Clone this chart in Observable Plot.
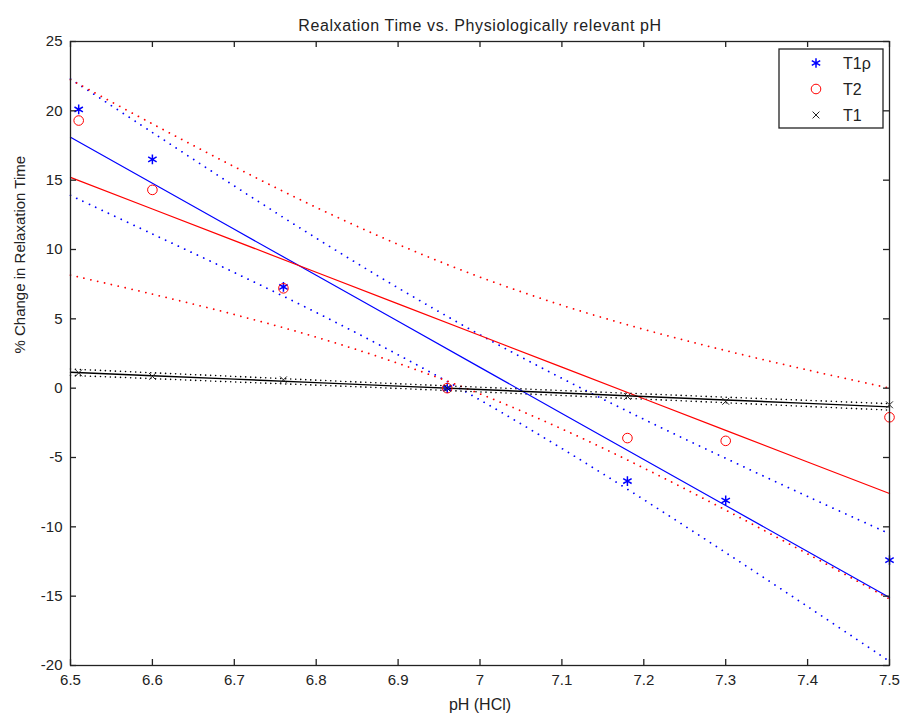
<!DOCTYPE html>
<html><head><meta charset="utf-8">
<script src="https://cdn.jsdelivr.net/npm/d3@7"></script>
<script src="https://cdn.jsdelivr.net/npm/@observablehq/plot@0.6"></script>
<style>
body{margin:0;background:#fff;}
#chart{position:relative;width:901px;height:717px;}
</style>
</head><body><div id="chart"></div>
<script>
// Measured points
const pH = [6.51, 6.6, 6.76, 6.96, 7.18, 7.3, 7.5];
const t1rho = [20.1, 16.5, 7.3, 0, -6.7, -8.1, -12.4];
const t2 = [19.3, 14.3, 7.2, 0, -3.6, -3.8, -2.1];
const t1 = [1.1, 0.85, 0.6, 0, -0.6, -0.95, -1.2];

// Fit lines and dotted bounds, read along the pH axis
const pHGrid = [6.5, 6.6, 6.7, 6.8, 6.9, 7.0, 7.1, 7.2, 7.3, 7.4, 7.5];
const t1rhoFit = [18.1, 14.78, 11.46, 8.14, 4.82, 1.5, -1.82, -5.14, -8.46, -11.78, -15.1];
const t1rhoUpper = [22.3, 18.44, 14.58, 10.82, 7.23, 3.85, 0.71, -2.24, -5.06, -7.81, -10.5];
const t1rhoLower = [13.9, 11.12, 8.34, 5.46, 2.41, -0.85, -4.35, -8.04, -11.86, -15.75, -19.7];
const t2Fit = [15.2, 12.92, 10.64, 8.36, 6.08, 3.8, 1.52, -0.76, -3.04, -5.32, -7.6];
const t2Upper = [22.25, 19.06, 15.97, 13.04, 10.37, 8.01, 5.98, 4.24, 2.71, 1.31, 0.0];
const t2Lower = [8.15, 6.78, 5.31, 3.68, 1.79, -0.41, -2.94, -5.76, -8.79, -11.95, -15.2];
const t1Fit = [1.15, 0.9, 0.65, 0.4, 0.15, -0.1, -0.35, -0.6, -0.85, -1.1, -1.35];
const t1Upper = [1.38, 1.11, 0.85, 0.58, 0.32, 0.07, -0.17, -0.41, -0.65, -0.88, -1.12];
const t1Lower = [0.92, 0.69, 0.45, 0.22, -0.02, -0.27, -0.53, -0.79, -1.05, -1.32, -1.58];

const xTicks = [6.5, 6.6, 6.7, 6.8, 6.9, 7.0, 7.1, 7.2, 7.3, 7.4, 7.5];
const yTicks = [-20, -15, -10, -5, 0, 5, 10, 15, 20, 25];

const title = "Realxation Time vs. Physiologically relevant pH";
const xLabel = "pH (HCl)";
const yLabel = "% Change in Relaxation Time";
const seriesNames = ["T1\u03c1", "T2", "T1"];

const BLUE = "#0000ff", RED = "#ff0000", BLACK = "#000000";
const FONT = "'Liberation Sans', Arial, Helvetica, sans-serif";

const pts = (ys) => pH.map((x, i) => ({x, y: ys[i]}));
const grid = (ys) => pHGrid.map((x, i) => ({x, y: ys[i]}));

const W = 901, H = 717;
const mL = 70, mR = 12, mT = 41, mB = 52;
const innerH = H - mT - mB, innerW = W - mL - mR;
const tick = 6;
const dotted = {strokeWidth: 1.8, strokeDasharray: "0.01,7", strokeLinecap: "round", curve: "catmull-rom"};

const chart = Plot.plot({
  width: W, height: H,
  marginLeft: mL, marginRight: mR, marginTop: mT, marginBottom: mB,
  style: {fontFamily: FONT, fontSize: "15px", color: "#222", background: "#fff"},
  x: {domain: [6.5, 7.5]},
  y: {domain: [-20, 25]},
  marks: [
    // dotted bounds
    Plot.line(grid(t1rhoUpper), {x: "x", y: "y", stroke: BLUE, ...dotted}),
    Plot.line(grid(t1rhoLower), {x: "x", y: "y", stroke: BLUE, ...dotted}),
    Plot.line(grid(t2Upper), {x: "x", y: "y", stroke: RED, ...dotted}),
    Plot.line(grid(t2Lower), {x: "x", y: "y", stroke: RED, ...dotted}),
    Plot.line(grid(t1Upper), {x: "x", y: "y", stroke: BLACK, ...dotted, strokeWidth: 1.6, strokeDasharray: "0.01,5"}),
    Plot.line(grid(t1Lower), {x: "x", y: "y", stroke: BLACK, ...dotted, strokeWidth: 1.6, strokeDasharray: "0.01,5"}),
    // fit lines
    Plot.line(grid(t1rhoFit), {x: "x", y: "y", stroke: BLUE, strokeWidth: 1.2}),
    Plot.line(grid(t2Fit), {x: "x", y: "y", stroke: RED, strokeWidth: 1.2}),
    Plot.line(grid(t1Fit), {x: "x", y: "y", stroke: BLACK, strokeWidth: 1.4}),
    // data markers
    Plot.dot(pts(t1rho), {x: "x", y: "y", symbol: "asterisk", r: 4.6, stroke: BLUE, strokeWidth: 1.5}),
    Plot.dot(pts(t2), {x: "x", y: "y", symbol: "circle", r: 4.8, stroke: RED, strokeWidth: 1}),
    Plot.dot(pts(t1), {x: "x", y: "y", symbol: "times", r: 3.2, stroke: "#222", strokeWidth: 1}),
    // frame and inward ticks
    Plot.frame({stroke: "#222", strokeWidth: 1.3}),
    Plot.tickX(xTicks, {x: d => d, stroke: "#222", strokeWidth: 1.3, insetTop: innerH - tick}),
    Plot.tickX(xTicks, {x: d => d, stroke: "#222", strokeWidth: 1.3, insetBottom: innerH - tick}),
    Plot.tickY(yTicks, {y: d => d, stroke: "#222", strokeWidth: 1.3, insetRight: innerW - tick}),
    Plot.tickY(yTicks, {y: d => d, stroke: "#222", strokeWidth: 1.3, insetLeft: innerW - tick}),
    Plot.axisX(xTicks, {tickSize: 0, tickPadding: 9, tickFormat: d => String(+d.toFixed(1)), label: null, fontSize: 15, fill: "#222"}),
    Plot.axisY(yTicks, {tickSize: 0, tickPadding: 8, tickFormat: d => String(d), label: null, fontSize: 15, fill: "#222"}),
    // titles
    Plot.text([title], {text: d => d, frameAnchor: "top", dy: -22, fontSize: 16, fill: "#222"}),
    Plot.text([xLabel], {text: d => d, frameAnchor: "bottom", dy: 44, fontSize: 16, fill: "#222"}),
    Plot.text([yLabel], {text: d => d, frameAnchor: "left", dx: -50, rotate: -90, fontSize: 15, fill: "#222"})
  ]
});
document.getElementById("chart").appendChild(chart);
// slightly wider letter spacing for the title, as in the reference
d3.select(chart).selectAll("text").filter(function() { return this.textContent === title; })
  .style("letter-spacing", "0.6px");

// Legend box (top-right inside axes)
const svg = d3.select(chart);
const lg = svg.append("g").attr("transform", "translate(779,49)");
lg.append("rect").attr("width", 104).attr("height", 79).attr("fill", "#fff").attr("stroke", "#222").attr("stroke-width", 1.3);
const legendItems = [
  {name: seriesNames[0], sym: d3.symbolAsterisk, size: Math.PI * 4.6 * 4.6, color: BLUE, sw: 1.5},
  {name: seriesNames[1], sym: d3.symbolCircle, size: Math.PI * 4.8 * 4.8, color: RED, sw: 1},
  {name: seriesNames[2], sym: d3.symbolTimes, size: Math.PI * 3.2 * 3.2, color: "#222", sw: 1}
];
legendItems.forEach((d, i) => {
  const y = 14 + i * 26;
  lg.append("path").attr("d", d3.symbol(d.sym, d.size)()).attr("transform", `translate(37,${y})`)
    .attr("fill", "none").attr("stroke", d.color).attr("stroke-width", d.sw);
  lg.append("text").attr("x", 64).attr("y", y).attr("dy", "0.35em").attr("font-size", 16)
    .attr("text-anchor", "start")
    .attr("fill", "#222").attr("font-family", FONT).text(d.name);
});
</script>
</body></html>
